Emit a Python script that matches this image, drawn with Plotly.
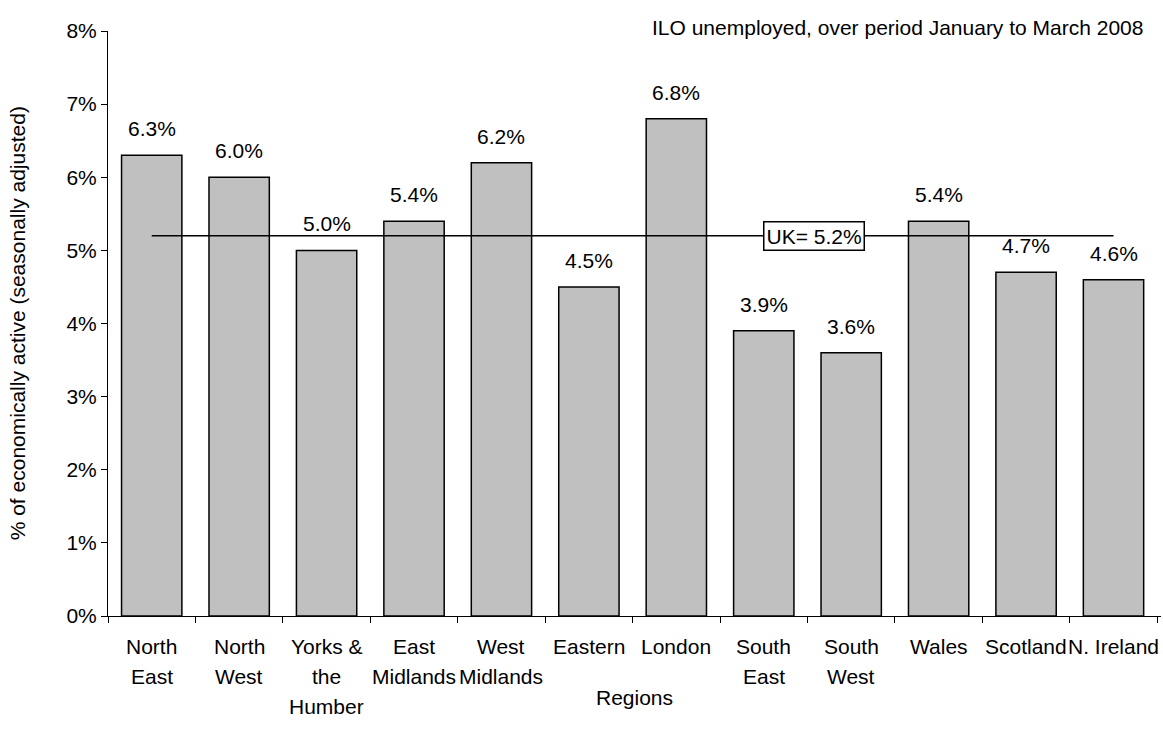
import plotly.graph_objects as go

regions = ["North East", "North West", "Yorks & the Humber", "East Midlands", "West Midlands",
           "Eastern", "London", "South East", "South West", "Wales", "Scotland", "N. Ireland"]
region_label_lines = [["North", "East"], ["North", "West"], ["Yorks &", "the", "Humber"],
                      ["East", "Midlands"], ["West", "Midlands"], ["Eastern"], ["London"],
                      ["South", "East"], ["South", "West"], ["Wales"], ["Scotland"], ["N. Ireland"]]
unemployment = [6.3, 6.0, 5.0, 5.4, 6.2, 4.5, 6.8, 3.9, 3.6, 5.4, 4.7, 4.6]
uk_rate = 5.2
y_ticks = [0, 1, 2, 3, 4, 5, 6, 7, 8]

FONT = "Liberation Sans, Arial, sans-serif"
FS = 21

fig = go.Figure()
fig.add_trace(go.Bar(
    x=regions, y=unemployment,
    marker=dict(color="#C0C0C0", line=dict(color="black", width=1.5)),
    showlegend=False, hoverinfo="skip",
))
fig.add_trace(go.Scatter(
    x=[regions[0], regions[-1]], y=[uk_rate, uk_rate], mode="lines",
    line=dict(color="black", width=1.5), showlegend=False, hoverinfo="skip",
))

annotations = []
for r, v in zip(regions, unemployment):
    annotations.append(dict(x=r, y=v, xref="x", yref="y", text=f"{v:.1f}%", showarrow=False,
                            yanchor="bottom", yshift=13, font=dict(size=FS, color="black", family=FONT)))
for r, lines in zip(regions, region_label_lines):
    for i, ln in enumerate(lines):
        annotations.append(dict(x=r, y=0, xref="x", yref="paper", text=ln, showarrow=False,
                                yanchor="middle", yshift=-30 - 30 * i,
                                font=dict(size=FS, color="black", family=FONT)))
annotations.append(dict(x=7.57, y=uk_rate, xref="x", yref="y", text=f"UK= {uk_rate:.1f}%",
                        showarrow=False, bgcolor="white", bordercolor="black", borderwidth=1.5,
                        borderpad=2, font=dict(size=FS, color="black", family=FONT)))
annotations.append(dict(x=0.985, y=1.0068, xref="paper", yref="paper",
                        text="ILO unemployed, over period January to March 2008", showarrow=False,
                        xanchor="right", yanchor="middle", font=dict(size=FS, color="black", family=FONT)))
annotations.append(dict(x=0.5, y=0, xref="paper", yref="paper", text="Regions", showarrow=False,
                        yanchor="middle", yshift=-81, font=dict(size=FS, color="black", family=FONT)))
annotations.append(dict(x=-(108 - 18) / 1051, y=0.5, xref="paper", yref="paper",
                        text="% of economically active (seasonally adjusted)", showarrow=False,
                        textangle=-90, xanchor="center", yanchor="middle",
                        font=dict(size=FS, color="black", family=FONT)))

fig.update_layout(
    width=1163, height=734,
    margin=dict(l=108, r=2, t=31, b=118),
    paper_bgcolor="white", plot_bgcolor="white",
    bargap=0.31,
    font=dict(family=FONT, size=FS, color="black"),
    annotations=annotations,
    xaxis=dict(type="category", showticklabels=False, ticks="outside", tickson="boundaries",
               ticklen=6, tickcolor="black", showline=True, linecolor="black", linewidth=1,
               showgrid=False, zeroline=False),
    yaxis=dict(range=[0, 8], tickvals=y_ticks, ticktext=[f"{t}%" for t in y_ticks],
               ticks="outside", ticklen=6, tickcolor="black", showline=True, linecolor="black",
               linewidth=1, showgrid=False, zeroline=False, tickfont=dict(size=FS)),
)

fig.write_html("out.html")
